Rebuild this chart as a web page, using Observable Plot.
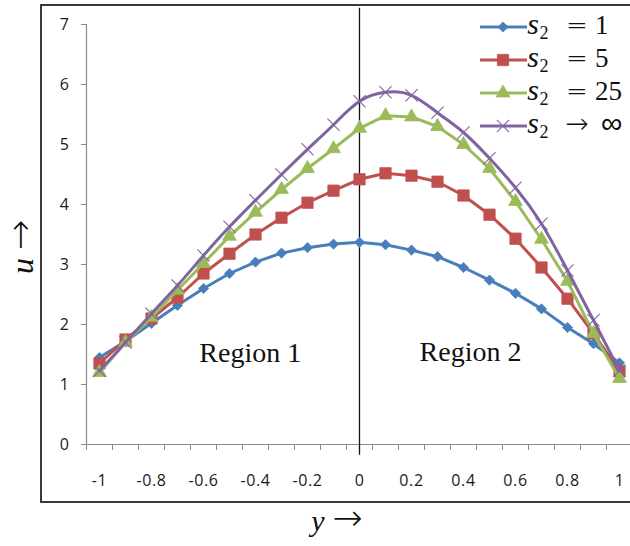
<!DOCTYPE html>
<html>
<head>
<meta charset="utf-8">
<script src="https://cdn.jsdelivr.net/npm/d3@7"></script>
<script src="https://cdn.jsdelivr.net/npm/@observablehq/plot@0.6"></script>
<style>
  html, body { margin: 0; padding: 0; background: #fff; }
  #chart svg { display: block; }
</style>
</head>
<body>
<div id="chart"></div>
<script>
// Transverse position y across the two regions
const yPos = [-1, -0.9, -0.8, -0.7, -0.6, -0.5, -0.4, -0.3, -0.2, -0.1, 0,
              0.1, 0.2, 0.3, 0.4, 0.5, 0.6, 0.7, 0.8, 0.9, 1];

// Velocity u for each value of s2
const uS1   = [1.45, 1.72, 2.02, 2.32, 2.60, 2.85, 3.04, 3.19, 3.28, 3.34, 3.37,
               3.33, 3.24, 3.13, 2.95, 2.74, 2.52, 2.26, 1.95, 1.68, 1.36];
const uS5   = [1.35, 1.75, 2.10, 2.45, 2.85, 3.18, 3.50, 3.78, 4.03, 4.23, 4.42,
               4.52, 4.48, 4.38, 4.15, 3.83, 3.43, 2.95, 2.43, 1.85, 1.22];
const uS25  = [1.20, 1.70, 2.12, 2.57, 3.02, 3.47, 3.87, 4.25, 4.60, 4.93, 5.27,
               5.48, 5.46, 5.30, 5.00, 4.60, 4.05, 3.42, 2.72, 1.85, 1.10];
const uSInf = [1.23, 1.70, 2.18, 2.65, 3.15, 3.63, 4.07, 4.50, 4.92, 5.33, 5.72,
               5.87, 5.82, 5.53, 5.20, 4.77, 4.28, 3.68, 2.90, 2.07, 1.23];

// Legend values and axis tick labels
const legendValues = ["1", "5", "25", "\u221E"];
const legendRelations = ["=", "=", "=", "\u2192"];
const xTickLabels = [-1, -0.8, -0.6, -0.4, -0.2, 0, 0.2, 0.4, 0.6, 0.8, 1];
const uTickLabels = [0, 1, 2, 3, 4, 5, 6, 7];
const regionNames = ["Region 1", "Region 2"];

const seriesStyles = [
  {values: uS1,   color: "#4A7EBB", symbol: "diamond2",  r: 4.6, curve: "linear"},
  {values: uS5,   color: "#C0504D", symbol: "square2",   r: 7.2, curve: "linear"},
  {values: uS25,  color: "#9BBB59", symbol: "triangle2", r: 6.6, curve: "linear"},
  {values: uSInf, color: "#8064A2", symbol: "times",     r: 5.6, curve: "natural"}
];

const tables = seriesStyles.map(s => yPos.map((y, i) => ({y, u: s.values[i]})));

// Category-style boundary ticks halfway between sample positions
const boundaryTicks = d3.range(-1.05, 1.0, 0.1).map(v => Math.round(v * 100) / 100);

const seriesMarks = seriesStyles.flatMap((s, k) => {
  const line = Plot.line(tables[k], {x: "y", y: "u", stroke: s.color, strokeWidth: 3, curve: s.curve});
  const dots = s.symbol === "times"
    ? Plot.dot(tables[k], {x: "y", y: "u", symbol: s.symbol, r: s.r, stroke: s.color, strokeWidth: 1.1})
    : Plot.dot(tables[k], {x: "y", y: "u", symbol: s.symbol, r: s.r, fill: s.color, stroke: s.color, strokeWidth: 0.8});
  return [line, dots];
});

const chart = Plot.plot({
  width: 630,
  height: 546,
  marginLeft: 86,
  marginRight: 0,
  marginTop: 24,
  marginBottom: 102,
  x: {domain: [-1.05, 1.0423]},
  y: {domain: [0, 7]},
  style: {fontFamily: "'Open Sans', sans-serif", fontSize: "16px", background: "#fff", color: "#1a1a1a"},
  marks: [
    Plot.axisY(uTickLabels, {tickSize: 5, tickPadding: 12, stroke: "#8a8a8a",
      tickFormat: d => String(d), label: null}),
    Plot.axisX(boundaryTicks, {tickSize: 6, tickFormat: () => "", stroke: "#8a8a8a", label: null}),
    Plot.axisX(xTickLabels, {tickSize: 0, tickPadding: 30, tickFormat: d => String(d), label: null}),
    Plot.ruleY([0], {stroke: "#8a8a8a", strokeWidth: 1.2}),
    Plot.ruleX([-1.05], {stroke: "#8a8a8a", strokeWidth: 1.2}),
    Plot.ruleX([0], {y1: 7.27, y2: -0.18, stroke: "#111", strokeWidth: 1.3}),
    ...seriesMarks,
    Plot.text([regionNames[0]], {x: -0.42, y: 1.38, text: d => d, lineAnchor: "bottom",
      fontFamily: "'Liberation Serif', serif", fontSize: 28, fill: "#111"}),
    Plot.text([regionNames[1]], {x: 0.427, y: 1.4, text: d => d, lineAnchor: "bottom",
      fontFamily: "'Liberation Serif', serif", fontSize: 28, fill: "#111"})
  ]
});

document.getElementById("chart").appendChild(chart);

const svg = d3.select(chart);

// Tick labels: larger, slightly tracked sans
svg.selectAll("g[aria-label*='axis'] text")
  .attr("font-size", 16)
  .attr("font-family", "'Open Sans', sans-serif")
  .attr("letter-spacing", "0.6px")
  .attr("fill", "#1a1a1a");

// Outer frame around the chart
svg.append("rect")
  .attr("x", 41).attr("y", 5).attr("width", 620).attr("height", 497)
  .attr("fill", "none").attr("stroke", "#3a3a3a").attr("stroke-width", 2);

// Axis titles
const serif = "'Liberation Serif', 'DejaVu Serif', serif";
const arrowFont = "'DejaVu Sans ExtraLight', 'DejaVu Sans', sans-serif";
const yTitle = svg.append("text")
  .attr("transform", "translate(337,531)")
  .attr("text-anchor", "middle")
  .attr("font-family", serif).attr("font-size", 30).attr("fill", "#111");
yTitle.append("tspan").attr("font-style", "italic").text("y");
yTitle.append("tspan").attr("font-family", arrowFont).attr("font-weight", 200)
  .attr("font-size", 36).attr("dx", 8).attr("dy", -1).text("\u2192");

const uTitle = svg.append("text")
  .attr("transform", "translate(33,247) rotate(-90)")
  .attr("text-anchor", "middle")
  .attr("font-family", serif).attr("font-size", 32).attr("fill", "#111");
uTitle.append("tspan").attr("font-style", "italic").text("u");
uTitle.append("tspan").attr("font-family", arrowFont).attr("font-weight", 200)
  .attr("font-size", 36).attr("dx", 8).attr("dy", -1).text("\u2192");

// Legend
const symbolMap = {
  diamond2: d3.symbolDiamond2 || d3.symbolDiamond,
  square2: d3.symbolSquare2 || d3.symbolSquare,
  triangle2: d3.symbolTriangle2 || d3.symbolTriangle,
  times: d3.symbolTimes || d3.symbolCross
};
const legend = svg.append("g").attr("font-family", serif).attr("fill", "#111");
seriesStyles.forEach((s, i) => {
  const cy = 27 + i * 33;
  const row = legend.append("g");
  row.append("line").attr("x1", 480).attr("x2", 527).attr("y1", cy).attr("y2", cy)
    .attr("stroke", s.color).attr("stroke-width", 3);
  row.append("path")
    .attr("transform", `translate(503,${cy})`)
    .attr("d", d3.symbol(symbolMap[s.symbol], Math.PI * s.r * s.r)())
    .attr("fill", s.symbol === "times" ? "none" : s.color)
    .attr("stroke", s.color).attr("stroke-width", s.symbol === "times" ? 1.1 : 0.8);
  const t = row.append("text").attr("y", cy + 7).attr("font-size", 30);
  t.append("tspan").attr("x", 533).attr("font-style", "italic").text("s");
  t.append("tspan").attr("x", 544).attr("dy", 5).attr("font-size", 18).text("2");
  t.append("tspan").attr("x", 577).attr("dy", -5).attr("text-anchor", "middle")
    .attr("font-family", arrowFont).attr("font-weight", 200)
    .attr("font-size", i === 3 ? 28 : 26).text(legendRelations[i]);
  t.append("tspan").attr("x", i === 3 ? 601 : 595).attr("text-anchor", "start")
    .attr("font-family", i === 3 ? arrowFont : serif).attr("font-weight", i === 3 ? 200 : 400)
    .attr("font-size", i === 3 ? 30 : 27)
    .text(legendValues[i]);
});
</script>
</body>
</html>
